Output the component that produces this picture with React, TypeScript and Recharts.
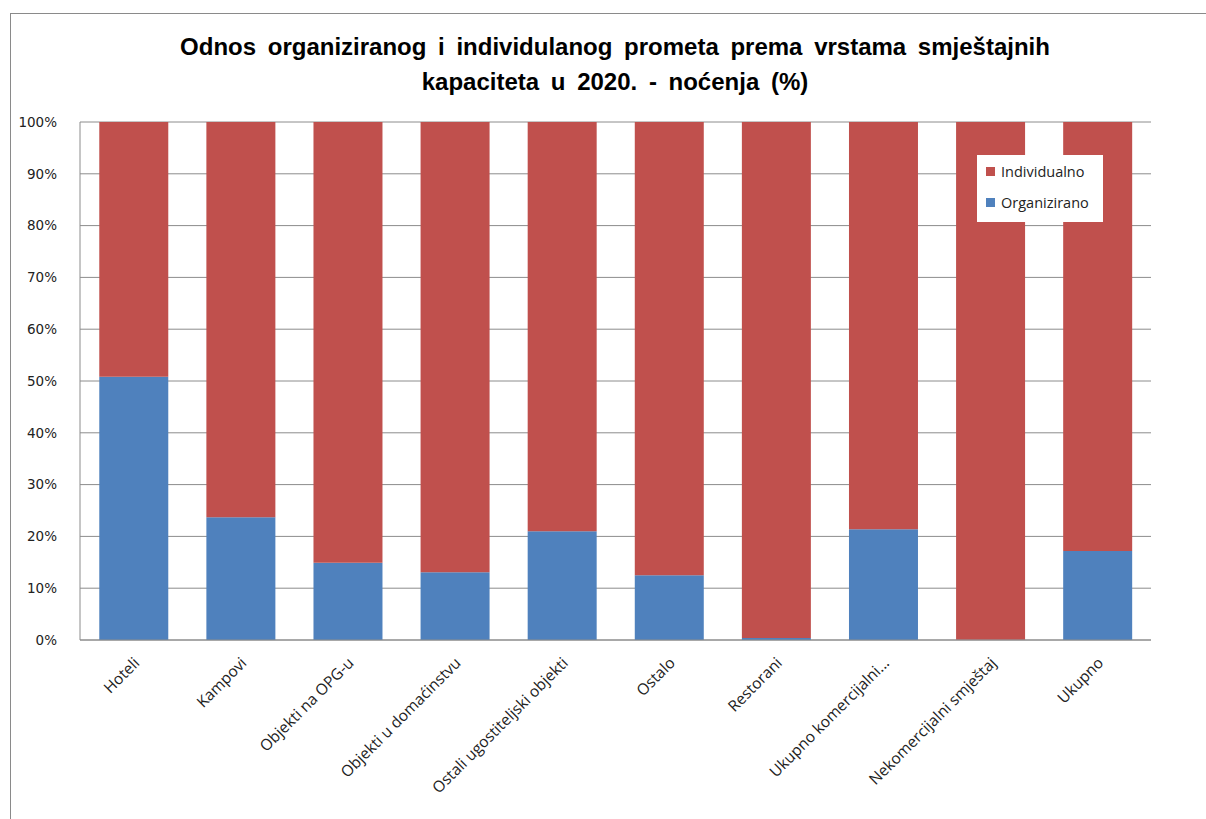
import React from 'react';
import { BarChart, Bar, XAxis, YAxis, CartesianGrid } from 'recharts';

const categories = [
  'Hoteli',
  'Kampovi',
  'Objekti na OPG-u',
  'Objekti u domaćinstvu',
  'Ostali ugostiteljski objekti',
  'Ostalo',
  'Restorani',
  'Ukupno komercijalni...',
  'Nekomercijalni smještaj',
  'Ukupno',
];
const organizirano = [50.8, 23.7, 14.9, 13.1, 21.0, 12.5, 0.4, 21.4, 0.05, 17.2];
const individualno = [49.2, 76.3, 85.1, 86.9, 79.0, 87.5, 99.6, 78.6, 99.95, 82.8];
const yTicks = [0, 10, 20, 30, 40, 50, 60, 70, 80, 90, 100];

const RED = '#C0504D';
const BLUE = '#4F81BD';

const data = categories.map((name, i) => ({
  name,
  Organizirano: organizirano[i],
  Individualno: individualno[i],
}));

const XTick = (props: any) => {
  const { x, y, payload } = props;
  const tx = x + 7;
  const ty = y + 16;
  return (
    <text
      x={tx}
      y={ty}
      textAnchor="end"
      transform={`rotate(-45 ${tx} ${ty})`}
      fontFamily="'Open Sans', sans-serif"
      fontSize={15.5}
      fill="#222"
    >
      {payload.value}
    </text>
  );
};

export default function App() {
  return (
    <div style={{ position: 'absolute', left: 0, top: 0, width: 1206, height: 819, background: '#fff' }}>
      <div
        style={{
          position: 'absolute',
          left: 10,
          top: 13,
          width: 1196,
          height: 806,
          borderTop: '1px solid #8a8a8a',
          borderLeft: '1px solid #8a8a8a',
        }}
      />
      <div
        style={{
          position: 'absolute',
          left: 0,
          top: 29,
          width: 1230,
          textAlign: 'center',
          fontFamily: "'Liberation Sans', Arial, sans-serif",
          fontWeight: 'bold',
          fontSize: 24,
          lineHeight: '35px',
          color: '#000',
          wordSpacing: 5,
        }}
      >
        Odnos organiziranog i individulanog prometa prema vrstama smještajnih
        <br />
        kapaciteta u 2020. - noćenja (%)
      </div>
      <div style={{ position: 'absolute', left: 0, top: 0 }}>
        <BarChart
          width={1206}
          height={819}
          data={data}
          margin={{ top: 122, right: 55, bottom: 9, left: 20 }}
          barCategoryGap="18%"
        >
          <CartesianGrid vertical={false} stroke="#8c8c8c" strokeWidth={1} />
          <XAxis
            dataKey="name"
            interval={0}
            height={170}
            tick={<XTick />}
            tickLine={false}
            axisLine={{ stroke: '#8c8c8c' }}
          />
          <YAxis
            width={60}
            domain={[0, 100]}
            ticks={yTicks}
            tickFormatter={(v: number) => `${v}%`}
            tickLine={false}
            axisLine={{ stroke: '#8c8c8c' }}
            tick={{ fontFamily: "'DejaVu Sans', Verdana, sans-serif", fontSize: 13.5, fill: '#222' }}
            tickMargin={17}
            allowDataOverflow
          />
          <Bar dataKey="Organizirano" stackId="a" fill={BLUE} isAnimationActive={false} />
          <Bar dataKey="Individualno" stackId="a" fill={RED} isAnimationActive={false} />
        </BarChart>
      </div>
      <div
        style={{
          position: 'absolute',
          left: 977,
          top: 155,
          width: 126,
          height: 67,
          background: '#fff',
          fontFamily: "'Open Sans', sans-serif",
          fontSize: 14.5,
          color: '#222',
        }}
      >
        <div style={{ position: 'absolute', left: 9, top: 7, display: 'flex', alignItems: 'center' }}>
          <span style={{ display: 'inline-block', width: 9, height: 9, background: RED, marginRight: 6 }} />
          Individualno
        </div>
        <div style={{ position: 'absolute', left: 9, top: 38, display: 'flex', alignItems: 'center' }}>
          <span style={{ display: 'inline-block', width: 9, height: 9, background: BLUE, marginRight: 6 }} />
          Organizirano
        </div>
      </div>
    </div>
  );
}
